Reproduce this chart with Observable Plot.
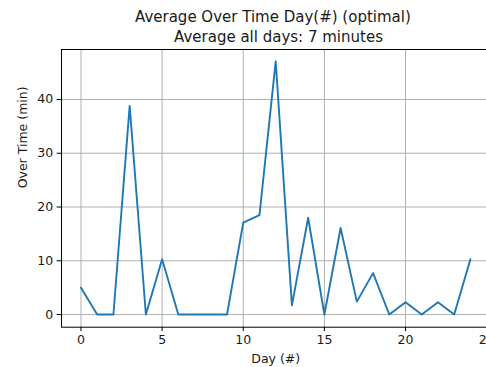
<!DOCTYPE html>
<html>
<head>
<meta charset="utf-8">
<script src="https://cdn.jsdelivr.net/npm/d3@7"></script>
<script src="https://cdn.jsdelivr.net/npm/@observablehq/plot@0.6"></script>
<style>
  html, body { margin: 0; padding: 0; background: #fff; overflow: hidden; width: 486px; height: 367px; }
  #chart { width: 500px; }
  #chart svg { display: block; max-width: none !important; width: 500px; height: 367px; font-family: "DejaVu Sans", sans-serif; }
</style>
</head>
<body>
<div id="chart"></div>
<script>
const days = [0,1,2,3,4,5,6,7,8,9,10,11,12,13,14,15,16,17,18,19,20,21,22,23,24];
const overTime = [5.0,0,0,38.8,0,10.3,0,0,0,0,17.1,18.5,47.1,1.7,18.0,0,16.1,2.4,7.7,0,2.3,0,2.3,0,10.3];
const xTicks = [0,5,10,15,20,25];
const yTicks = [0,10,20,30,40];
const titleLines = ["Average Over Time Day(#) (optimal)", "Average all days: 7 minutes"];
const xLabel = "Day (#)";
const yLabel = "Over Time (min)";

const data = days.map((d, i) => ({day: d, value: overTime[i]}));
const font = "'DejaVu Sans', sans-serif";
const ink = "#1a1a1a";

const chart = Plot.plot({
  width: 500,
  height: 367,
  marginLeft: 61,
  marginRight: 10.6,
  marginTop: 49,
  marginBottom: 40.3,
  style: {fontFamily: font, fontSize: "12.5px", color: ink, background: "#fff"},
  x: {domain: [-1.2, 25.2], label: null},
  y: {domain: [-2.36, 49.3], label: null},
  marks: [
    Plot.gridX(xTicks, {stroke: "#b0b0b0", strokeOpacity: 1, strokeWidth: 1}),
    Plot.gridY(yTicks, {stroke: "#b0b0b0", strokeOpacity: 1, strokeWidth: 1}),
    Plot.line(data, {x: "day", y: "value", stroke: "#1f77b4", strokeWidth: 1.9}),
    Plot.frame({stroke: "#000", strokeWidth: 1}),
    Plot.axisX(xTicks, {tickSize: 4.4, tickPadding: 4, fontSize: 12.5, fontFamily: font, fill: ink, stroke: "#000", tickFormat: d3.format("d"), label: null}),
    Plot.axisY(yTicks, {tickSize: 4.4, tickPadding: 4, fontSize: 12.5, fontFamily: font, fill: ink, stroke: "#000", tickFormat: d3.format("d"), label: null}),
    Plot.text([titleLines[0]], {frameAnchor: "top", lineAnchor: "middle", dy: -32.5, dx: -2.8, fontSize: 15, fontFamily: font, fill: ink, text: d => d}),
    Plot.text([titleLines[1]], {frameAnchor: "top", lineAnchor: "middle", dy: -12, dx: 2.8, fontSize: 15, fontFamily: font, fill: ink, text: d => d}),
    Plot.text([xLabel], {frameAnchor: "bottom", lineAnchor: "middle", dy: 31.5, fontSize: 12.5, fontFamily: font, fill: ink, text: d => d}),
    Plot.text([yLabel], {frameAnchor: "left", lineAnchor: "middle", dx: -39, rotate: -90, fontSize: 12.5, fontFamily: font, fill: ink, text: d => d})
  ]
});
document.getElementById("chart").appendChild(chart);
</script>
</body>
</html>
